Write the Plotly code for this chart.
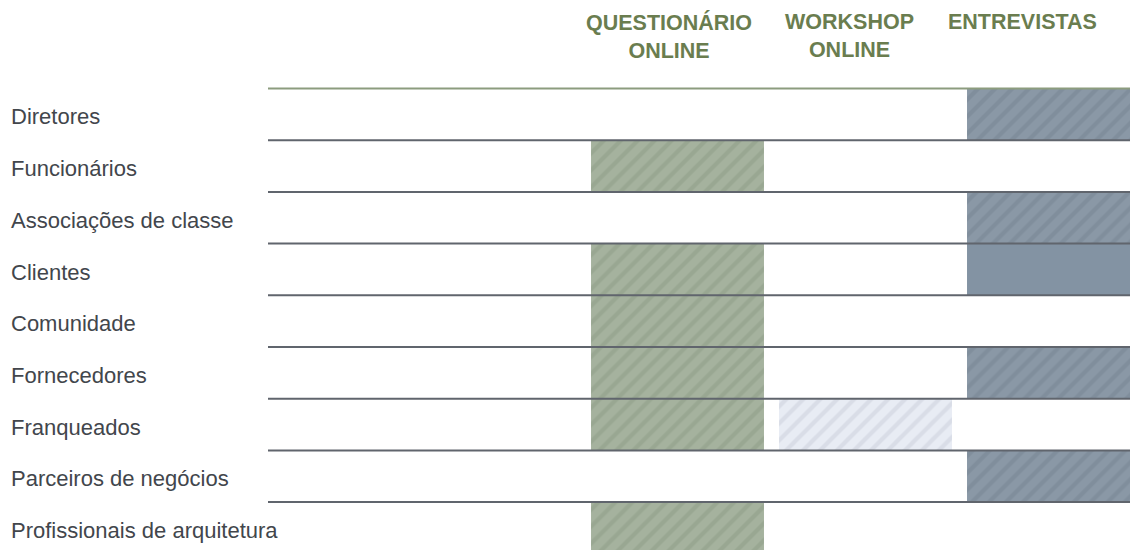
import plotly.graph_objects as go

# ---- data -------------------------------------------------------------
stakeholders = [
    "Diretores",
    "Funcionários",
    "Associações de classe",
    "Clientes",
    "Comunidade",
    "Fornecedores",
    "Franqueados",
    "Parceiros de negócios",
    "Profissionais de arquitetura",
]
methods = ["QUESTIONÁRIO<br>ONLINE", "WORKSHOP<br>ONLINE", "ENTREVISTAS"]

questionario_online = [0, 1, 0, 1, 1, 1, 1, 0, 1]
workshop_online = [0, 0, 0, 0, 0, 0, 1, 0, 0]
entrevistas = [1, 0, 1, 1, 0, 1, 0, 1, 0]

participation = [questionario_online, workshop_online, entrevistas]

# ---- layout geometry ---------------------------------------------------
W, H = 1130, 550
ML, MR, MT, MB = 268, 0, 86, 0
ROW_PX = 51.7
TOP_LINE = 88.5                # pixel position of first separator
n_rows = len(stakeholders)
plot_w = W - ML - MR
plot_h = H - MT - MB
y_top = -(TOP_LINE - MT) / ROW_PX
y_bot = y_top + plot_h / ROW_PX

col_styles = [
    dict(bg="#a5b29e", fg="#99a792"),   # questionário
    dict(bg="#e8ecf4", fg="#d9dde7"),   # workshop
    dict(bg="#8a98a6", fg="#808e9c"),   # entrevistas
]
solid_cells = {(2, "Clientes"): "#8393a3"}

fig = go.Figure()
for j, col in enumerate(participation):
    st = col_styles[j]
    for i, flag in enumerate(col):
        if not flag:
            continue
        key = (j, stakeholders[i])
        if key in solid_cells:
            marker = dict(color=solid_cells[key], line=dict(width=0))
        else:
            marker = dict(
                color=st["bg"],
                line=dict(width=0),
                pattern=dict(shape="/", bgcolor=st["bg"], fgcolor=st["fg"],
                             size=12, solidity=0.35, fillmode="replace"),
            )
        fig.add_trace(go.Bar(
            x=[j], y=[1], base=[i], width=0.92,
            marker=marker, showlegend=False, hoverinfo="skip",
        ))

# row separator lines (drawn over the cells)
for i in range(n_rows):
    fig.add_shape(
        type="line", xref="paper", x0=0, x1=1, yref="y", y0=i, y1=i,
        line=dict(color="#8c9c7e" if i == 0 else "#60656d", width=2),
        layer="above",
    )

# row labels
for i, name in enumerate(stakeholders):
    fig.add_annotation(
        text=name, xref="paper", x=(9 - ML) / plot_w, xanchor="left",
        yref="y", y=i + 0.55, yanchor="middle", showarrow=False,
        font=dict(family="Liberation Sans, Arial, sans-serif", size=22, color="#42464c"),
    )

# column headers
header_shift = [-9, -16, -31]
for j, m in enumerate(methods):
    fig.add_annotation(
        text="<b>" + m + "</b>", xref="x", x=j, xshift=header_shift[j],
        yref="paper", y=1 + (MT - 8) / plot_h, yanchor="top", xanchor="center",
        align="center", showarrow=False,
        font=dict(family="Liberation Sans, Arial, sans-serif", size=21.5, color="#6a7d4f"),
    )

unit = 188.0
x0 = -(677.5 - ML) / unit
x1 = x0 + plot_w / unit

fig.update_layout(
    width=W, height=H,
    margin=dict(l=ML, r=MR, t=MT, b=MB, pad=0),
    paper_bgcolor="white", plot_bgcolor="white",
    barmode="overlay",
    hovermode=False,
    xaxis=dict(range=[x0, x1], visible=False, fixedrange=True),
    yaxis=dict(range=[y_bot, y_top], visible=False, fixedrange=True),
)

fig.write_html(
    "out.html",
    config={"displayModeBar": False, "staticPlot": True},
    post_script="document.body.style.margin='0';document.body.style.overflow='hidden';",
)
